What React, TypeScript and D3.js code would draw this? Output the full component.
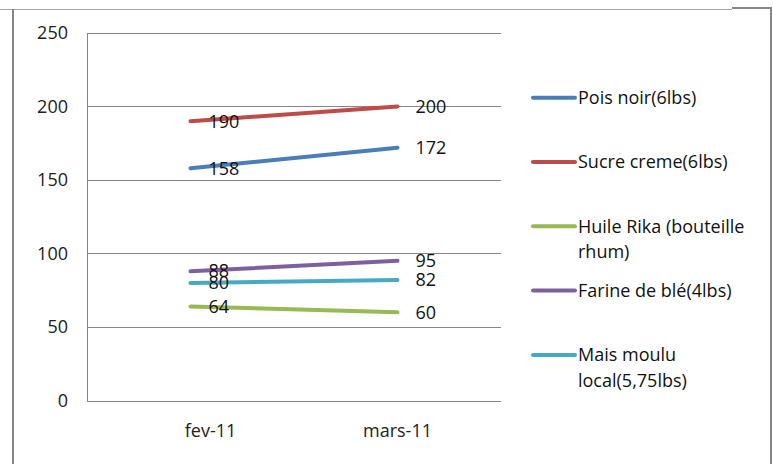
import React from "react";
import * as d3 from "d3";

const categories = ["fev-11", "mars-11"];
const seriesNames = [
  "Pois noir(6lbs)",
  "Sucre creme(6lbs)",
  "Huile Rika (bouteille rhum)",
  "Farine de blé(4lbs)",
  "Mais moulu local(5,75lbs)",
];
const legendLines = [
  ["Pois noir(6lbs)"],
  ["Sucre creme(6lbs)"],
  ["Huile Rika (bouteille", "rhum)"],
  ["Farine de blé(4lbs)"],
  ["Mais moulu", "local(5,75lbs)"],
];
const poisNoir = [158, 172];
const sucreCreme = [190, 200];
const huileRika = [64, 60];
const farineBle = [88, 95];
const maisMoulu = [80, 82];
const seriesValues = [poisNoir, sucreCreme, huileRika, farineBle, maisMoulu];
const colors = ["#4a7ebb", "#be4b48", "#98b954", "#7d60a0", "#46aac5"];
const yTicks = [0, 50, 100, 150, 200, 250];

const W = 773;
const H = 464;
const plot = { left: 87, right: 501, top: 33, bottom: 400.5 };
const FONT = "'Open Sans', sans-serif";
const FS = 18;

export default function App() {
  const x = d3
    .scaleBand<string>()
    .domain(categories)
    .range([plot.left, plot.right]);
  const y = d3.scaleLinear().domain([0, 250]).range([plot.bottom, plot.top]);
  const cx = (c: string) => (x(c) as number) + x.bandwidth() / 2;
  const line = d3
    .line<number>()
    .x((_, i) => cx(categories[i]))
    .y((v) => y(v));

  const xLabelShift = [20, 0];

  return (
    <div style={{ position: "absolute", left: 0, top: 0 }}>
      <svg width={W} height={H} style={{ display: "block", background: "#fff" }}>
        {/* outer frame */}
        <line x1={0} x2={732} y1={9.5} y2={9.5} stroke="#a6a6a6" strokeWidth={1} />
        <line x1={732} x2={772} y1={8} y2={8} stroke="#878787" strokeWidth={2} />
        <line x1={771} x2={771} y1={7} y2={H} stroke="#878787" strokeWidth={2} />
        <line x1={13} x2={13} y1={9} y2={H} stroke="#878787" strokeWidth={2} />

        {/* gridlines */}
        {yTicks.map((t) => (
          <line
            key={t}
            x1={plot.left}
            x2={plot.right}
            y1={Math.round(y(t)) + 0.5}
            y2={Math.round(y(t)) + 0.5}
            stroke="#868686"
            strokeWidth={1}
          />
        ))}
        <line
          x1={plot.left + 0.5}
          x2={plot.left + 0.5}
          y1={plot.top}
          y2={plot.bottom + 1}
          stroke="#868686"
          strokeWidth={1}
        />

        {/* y tick labels */}
        {yTicks.map((t) => (
          <text
            key={t}
            x={68}
            y={y(t)}
            dy="0.35em"
            textAnchor="end"
            fontFamily={FONT}
            fontSize={FS}
            fill="#222"
          >
            {t}
          </text>
        ))}

        {/* x labels */}
        {categories.map((c, i) => (
          <text
            key={c}
            x={cx(c) + xLabelShift[i]}
            y={437}
            textAnchor="middle"
            fontFamily={FONT}
            fontSize={FS}
            fill="#222"
          >
            {c}
          </text>
        ))}

        {/* lines */}
        {seriesValues.map((vals, s) => (
          <path
            key={s}
            d={line(vals) || ""}
            fill="none"
            stroke={colors[s]}
            strokeWidth={4}
            strokeLinecap="round"
          />
        ))}

        {/* data labels */}
        {seriesValues.map((vals, s) =>
          vals.map((v, i) => (
            <text
              key={s + "-" + i}
              x={cx(categories[i]) + 18}
              y={y(v)}
              dy="0.35em"
              fontFamily={FONT}
              fontSize={FS}
              fill="#111"
            >
              {v}
            </text>
          ))
        )}

        {/* legend */}
        {seriesNames.map((name, s) => {
          const ly = 97.7 + s * 64.3;
          return (
            <g key={name}>
              <line
                x1={533}
                x2={575}
                y1={ly}
                y2={ly}
                stroke={colors[s]}
                strokeWidth={4}
                strokeLinecap="round"
              />
              {legendLines[s].map((t, k) => (
                <text
                  key={k}
                  x={578}
                  y={ly + k * 25.5}
                  dy="0.35em"
                  fontFamily={FONT}
                  fontSize={FS}
                  fill="#111"
                >
                  {t}
                </text>
              ))}
            </g>
          );
        })}
      </svg>
    </div>
  );
}
